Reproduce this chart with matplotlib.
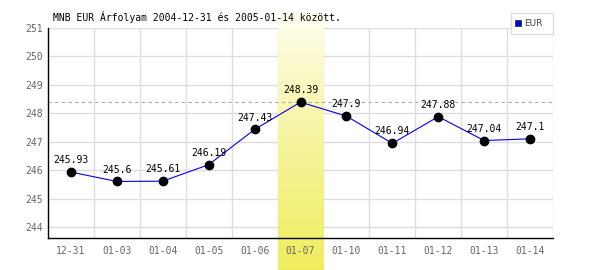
import numpy as np
import matplotlib
matplotlib.use("Agg")
import matplotlib.pyplot as plt
from matplotlib.patches import Rectangle

dates = ["12-31", "01-03", "01-04", "01-05", "01-06", "01-07",
         "01-10", "01-11", "01-12", "01-13", "01-14"]
eur = [245.93, 245.6, 245.61, 246.19, 247.43, 248.39,
       247.9, 246.94, 247.88, 247.04, 247.1]
yticks = [244, 245, 246, 247, 248, 249, 250, 251]
title = "MNB EUR Árfolyam 2004-12-31 és 2005-01-14 között."

plt.rcParams['font.family'] = ['DejaVu Sans Mono']

fig = plt.figure(figsize=(6, 2.7), dpi=100)
ax = fig.add_axes([48/600, 32/270, 505/600, 210/270])
x = np.arange(len(dates))
ymin, ymax = 243.61, 251

# highlight band for the max day
imax = int(np.argmax(eur))
grad = np.linspace(0, 1, 256).reshape(-1, 1)
top = np.array([1.0, 1.0, 0.97])
bot = np.array([0.94, 0.93, 0.37])
img = top + (bot - top) * grad[..., None] ** 0.8
unit = (ymax - ymin) / 210
ax.imshow(img, extent=(imax - 0.5, imax + 0.5, ymin - 32 * unit, ymax + 16 * unit),
          aspect='auto', clip_on=False, zorder=1, interpolation='bilinear')

ax.set_xlim(-0.5, len(dates) - 0.5)
ax.set_ylim(ymin, ymax)

for b in np.arange(0.5, len(dates) - 0.5, 1.0):
    ax.axvline(b, color='#dddddd', lw=1, zorder=0)
ax.axvline(len(dates) - 0.5, color='#dddddd', lw=1, zorder=0)
for yt in yticks:
    ax.axhline(yt, color='#dddddd', lw=1, zorder=0)

ax.axhline(max(eur), color='#aaaaaa', lw=0.8, ls=(0, (3, 3)), zorder=2)

ax.plot(x, eur, color='#0000ee', lw=0.8, marker='o', ms=6,
        mfc='black', mec='black', zorder=3)
for xi, v in zip(x, eur):
    ax.annotate(f"{v:g}", (xi, v), xytext=(0, 5), textcoords='offset points',
                ha='center', va='bottom', fontsize=7, color='black', zorder=4)

ax.set_xticks(x)
ax.set_xticklabels(dates)
ax.set_yticks(yticks)
ax.tick_params(length=0, labelsize=7, colors='#666666', pad=6)
ax.tick_params(axis='y', pad=4)
for s in ['top', 'right']:
    ax.spines[s].set_visible(False)
ax.spines['left'].set_color('black')
ax.spines['bottom'].set_color('black')
ax.spines['left'].set_linewidth(1)
ax.spines['bottom'].set_linewidth(1)
ax.set_facecolor('none')

fig.text(53/600, 1 - 17/270, title, fontsize=7, ha='left', va='center', color='black')

# legend box
fig.patches.append(Rectangle((511/600, 1 - 34/270), 42/600, 21/270, transform=fig.transFigure,
                             facecolor='white', edgecolor='#dddddd', lw=1, zorder=5))
fig.patches.append(Rectangle((515/600, 1 - 26/270), 6/600, 6/270, transform=fig.transFigure,
                             facecolor='#0000ee', edgecolor='#333333', lw=0.6, zorder=6))
fig.text(524/600, 1 - 23/270, "EUR", fontsize=6.5, ha='left', va='center',
         color='#444444', family='DejaVu Sans', zorder=7)

fig.savefig("out.png", dpi=100)
